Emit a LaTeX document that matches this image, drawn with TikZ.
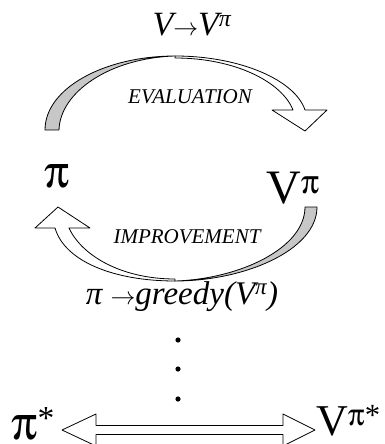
\documentclass[tikz,border=0pt]{standalone}
\usepackage{fontspec}
\setmainfont{Liberation Serif}
\usepackage[Symbol]{upgreek}
\usepackage{tikz}
\usetikzlibrary{calc}

\tikzset{
  band/.style={draw=black,line width=0.8pt,line join=round},
  shade/.style={band,fill=black!22},
  lbl/.style={anchor=base,inner sep=0pt}
}

\begin{document}
\begin{tikzpicture}[x=1pt,y=-1pt]
    \useasboundingbox (0,0) rectangle (384,444);
    % top label and evaluation arrow
    \node[lbl,font=\fontsize{34}{36}\selectfont\itshape] (evalrule) at (192,36) {V$\rightarrow$V\textsuperscript{π}};
    \draw[band,fill=white] (175,56) .. controls (240,56) and (295,80) .. (305,110)
      -- (327,110) -- (305,131) -- (272,110) -- (293,110)
      .. controls (282,82) and (235,58) .. (175,58) -- cycle;
    \draw[shade] (45,130) .. controls (45,88) and (105,56) .. (175,56)
      .. controls (110,58) and (60,92) .. (59,130) -- cycle;
    \node[lbl,font=\fontsize{21}{24}\selectfont\itshape] (evaltxt) at (190,103) {EVALUATION};
    % policy and value
    \node[lbl,font=\fontsize{46}{50}\selectfont] (pi) at (57,187) {$\uppi$};
    \node[lbl,font=\fontsize{48}{52}\selectfont] (vpi) at (293,203) {V$^{\uppi}$};
    % improvement arrow
    \draw[band,fill=white] (175,281) .. controls (115,281) and (65,262) .. (55,228)
      -- (35,228) -- (58,207) -- (90,228) -- (69,228)
      .. controls (82,256) and (122,279) .. (175,279) -- cycle;
    \draw[shade] (317,207) .. controls (317,250) and (245,281) .. (175,281)
      .. controls (240,279) and (305,248) .. (305,207) -- cycle;
    \node[lbl,font=\fontsize{21}{24}\selectfont\itshape] (imprtxt) at (187,243) {IMPROVEMENT};
    \node[lbl,font=\fontsize{33}{36}\selectfont\itshape] (imprule) at (182,304) {π $\rightarrow$greedy(V\textsuperscript{π})};
    % dots
    \foreach \y in {340,369,399}
      \fill (178,\y) circle (2.6);
    % optimum
    \node[lbl,anchor=base west,font=\fontsize{48}{52}\selectfont] (pistar) at (11,439) {$\uppi$\textsuperscript{*}};
    \node[lbl,anchor=base east,font=\fontsize{44}{48}\selectfont] (vstar) at (381,435) {V\textsuperscript{$\uppi$*}};
    \draw[band,fill=white] (62,430) -- (96,414) -- (96,425.5) -- (283,425.5) -- (283,414)
      -- (315,430) -- (283,446) -- (283,434.5) -- (96,434.5) -- (96,446) -- cycle;
\end{tikzpicture}
\end{document}
